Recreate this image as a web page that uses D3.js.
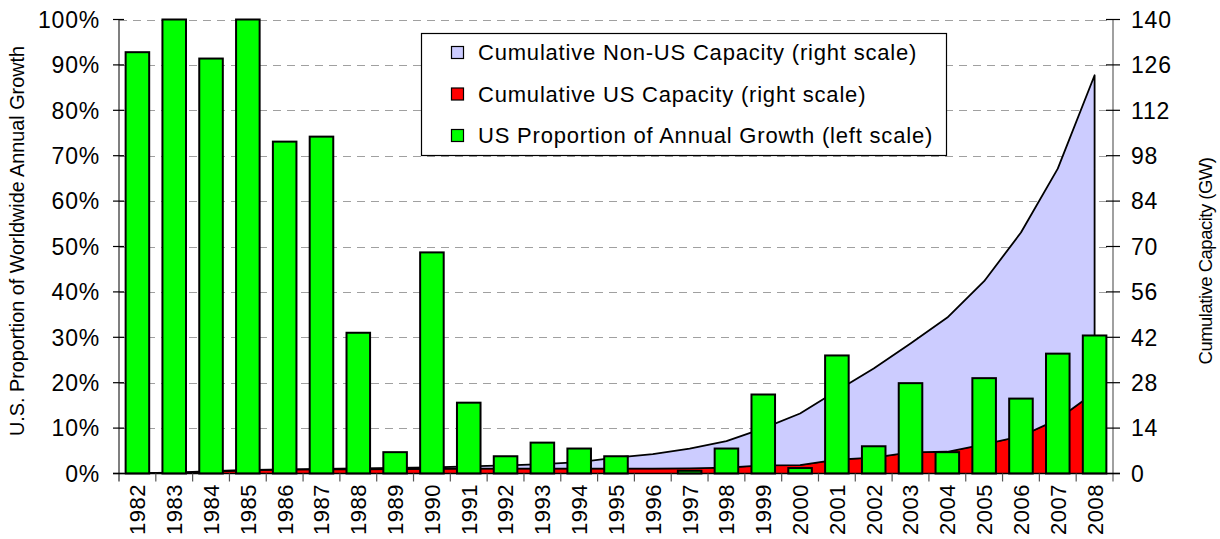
<html>
<head>
<meta charset="utf-8">
<script src="https://d3js.org/d3.v7.min.js"></script>
<style>
  body { margin: 0; background: #fff; }
  text { font-family: "Liberation Sans", Arial, sans-serif; fill: #000; }
</style>
</head>
<body>
<div id="chart-container"></div>
<script>
// Data
var years = ["1982","1983","1984","1985","1986","1987","1988","1989","1990","1991","1992","1993","1994",
             "1995","1996","1997","1998","1999","2000","2001","2002","2003","2004","2005","2006","2007","2008"];
// US share of worldwide annual growth (left scale, fraction)
var usShare = [0.928, 1.0, 0.914, 1.0, 0.731, 0.742, 0.31, 0.047, 0.487, 0.156, 0.038, 0.068, 0.055,
               0.038, 0, 0.006, 0.055, 0.174, 0.012, 0.26, 0.06, 0.199, 0.047, 0.21, 0.165, 0.264, 0.304];
// cumulative US capacity, GW (right scale)
var usCap = [0.1, 0.25, 0.6, 1.0, 1.2, 1.25, 1.3, 1.35, 1.4, 1.5, 1.5, 1.5, 1.5,
             1.5, 1.5, 1.55, 1.8, 2.5, 2.6, 4.3, 4.9, 6.5, 6.7, 9.0, 11.5, 16.7, 25.0];
// cumulative worldwide capacity (US + non-US), GW
var totalCap = [0.1, 0.3, 0.7, 1.1, 1.3, 1.4, 1.6, 1.7, 1.9, 2.2, 2.5, 2.9, 3.5,
                4.9, 6.0, 7.7, 10.0, 13.9, 18.5, 25.5, 32.4, 40.1, 48.1, 59.3, 74.3, 94.0, 122.8];
var leftTicks = [0, 0.1, 0.2, 0.3, 0.4, 0.5, 0.6, 0.7, 0.8, 0.9, 1.0];
var rightTicks = [0, 14, 28, 42, 56, 70, 84, 98, 112, 126, 140];
var legendItems = [
  {label: "Cumulative Non-US Capacity (right scale)", color: "#ccccff"},
  {label: "Cumulative US Capacity (right scale)", color: "#ff0000"},
  {label: "US Proportion of Annual Growth (left scale)", color: "#00ff00"}
];

const width = 1220, height = 539;
const pLeft = 119, pRight = 1113, pTop = 19.5, pBottom = 473.5;

const svg = d3.select("#chart-container").append("svg")
  .attr("width", width).attr("height", height);

var x = d3.scaleBand().domain(years).range([pLeft, pRight]).paddingInner(0.36).paddingOuter(0.18);
var yL = d3.scaleLinear().domain([0, 1]).range([pBottom, pTop]);
var yR = d3.scaleLinear().domain([0, 140]).range([pBottom, pTop]);
var cx = d => x(d) + x.bandwidth() / 2;

// gridlines
svg.append("g").selectAll("line")
  .data(rightTicks.filter(d => d > 0))
  .enter().append("line")
  .attr("x1", pLeft).attr("x2", pRight)
  .attr("y1", d => Math.round(yR(d)) + 0.5).attr("y2", d => Math.round(yR(d)) + 0.5)
  .attr("stroke", "#a0a0a0").attr("stroke-width", 1.2)
  .attr("stroke-dasharray", "8,6");

// stacked areas
var rows = years.map((y, i) => ({year: y, us: usCap[i], total: totalCap[i]}));

var usArea = d3.area()
  .x(d => cx(d.year))
  .y0(yR(0))
  .y1(d => yR(d.us));
var nonUsArea = d3.area()
  .x(d => cx(d.year))
  .y0(d => yR(d.us))
  .y1(d => yR(d.total));

svg.append("path").datum(rows)
  .attr("d", usArea)
  .attr("fill", "#ff0000")
  .attr("stroke", "#000").attr("stroke-width", 1.2)
  .attr("stroke-linejoin", "round");

svg.append("path").datum(rows)
  .attr("d", nonUsArea)
  .attr("fill", "#ccccff")
  .attr("stroke", "#000").attr("stroke-width", 1.8)
  .attr("stroke-linejoin", "round");

// bars
svg.append("g").selectAll("rect")
  .data(years.map((y, i) => ({year: y, v: usShare[i]})).filter(d => d.v > 0))
  .enter().append("rect")
  .attr("x", d => x(d.year))
  .attr("width", x.bandwidth())
  .attr("y", d => yL(d.v))
  .attr("height", d => yL(0) - yL(d.v))
  .attr("fill", "#00ff00")
  .attr("stroke", "#000").attr("stroke-width", 2);

// left axis
svg.append("line")
  .attr("x1", pLeft).attr("x2", pLeft).attr("y1", pTop).attr("y2", pBottom + 8)
  .attr("stroke", "#555").attr("stroke-width", 1.5);
svg.append("g").selectAll("line").data(leftTicks).enter().append("line")
  .attr("x1", pLeft - 6).attr("x2", pLeft + 5)
  .attr("y1", d => yL(d)).attr("y2", d => yL(d))
  .attr("stroke", "#000").attr("stroke-width", 1.2);
svg.append("g").selectAll("text").data(leftTicks).enter().append("text")
  .attr("x", 100).attr("y", d => yL(d))
  .attr("dy", "0.36em")
  .attr("text-anchor", "end")
  .attr("font-size", 23)
  .attr("letter-spacing", 0.8)
  .text(d => d3.format(".0%")(d));

// right axis
svg.append("line")
  .attr("x1", pRight).attr("x2", pRight).attr("y1", pTop).attr("y2", pBottom + 8)
  .attr("stroke", "#808080").attr("stroke-width", 1.5);
svg.append("g").selectAll("line").data(rightTicks).enter().append("line")
  .attr("x1", pRight - 7).attr("x2", pRight + 7)
  .attr("y1", d => yR(d)).attr("y2", d => yR(d))
  .attr("stroke", "#000").attr("stroke-width", 1.2);
svg.append("g").selectAll("text").data(rightTicks).enter().append("text")
  .attr("x", 1131).attr("y", d => yR(d))
  .attr("dy", "0.36em")
  .attr("text-anchor", "start")
  .attr("font-size", 23)
  .attr("letter-spacing", 0.8)
  .text(d => d);

// bottom axis
svg.append("line")
  .attr("x1", pLeft - 6).attr("x2", pRight + 7).attr("y1", pBottom).attr("y2", pBottom)
  .attr("stroke", "#000").attr("stroke-width", 1.5);
svg.append("g").selectAll("line").data(years.slice(1)).enter().append("line")
  .attr("x1", d => x(d) - x.step() * 0.18).attr("x2", d => x(d) - x.step() * 0.18)
  .attr("y1", pBottom).attr("y2", pBottom + 8)
  .attr("stroke", "#555").attr("stroke-width", 1.2);
svg.append("g").selectAll("text").data(years).enter().append("text")
  .attr("transform", d => "translate(" + cx(d) + "," + 484 + ") rotate(-90)")
  .attr("dy", "0.36em")
  .attr("text-anchor", "end")
  .attr("font-size", 22)
  .attr("letter-spacing", 0.5)
  .text(d => d);

// axis titles
svg.append("text")
  .attr("transform", "translate(17,241) rotate(-90)")
  .attr("dy", "0.36em")
  .attr("text-anchor", "middle")
  .attr("font-size", 19.8)
  .text("U.S. Proportion of Worldwide Annual Growth");
svg.append("text")
  .attr("transform", "translate(1205,261) rotate(-90)")
  .attr("dy", "0.36em")
  .attr("text-anchor", "middle")
  .attr("font-size", 18.5)
  .attr("letter-spacing", -0.5)
  .text("Cumulative Capacity (GW)");

// legend
const legend = svg.append("g");
legend.append("rect")
  .attr("x", 421.5).attr("y", 33.5).attr("width", 525).attr("height", 122)
  .attr("fill", "#fff").attr("stroke", "#000").attr("stroke-width", 1.2);
legend.selectAll("rect.sw").data(legendItems).enter().append("rect")
  .attr("class", "sw")
  .attr("x", 451.5).attr("y", (d, i) => 46.5 + i * 41.5)
  .attr("width", 12).attr("height", 12)
  .attr("fill", d => d.color)
  .attr("stroke", "#000").attr("stroke-width", 1.2);
legend.selectAll("text").data(legendItems).enter().append("text")
  .attr("x", 478).attr("y", (d, i) => 52.5 + i * 41.5)
  .attr("dy", "0.36em")
  .attr("font-size", 22)
  .attr("letter-spacing", 0.8)
  .text(d => d.label);
</script>
</body>
</html>
